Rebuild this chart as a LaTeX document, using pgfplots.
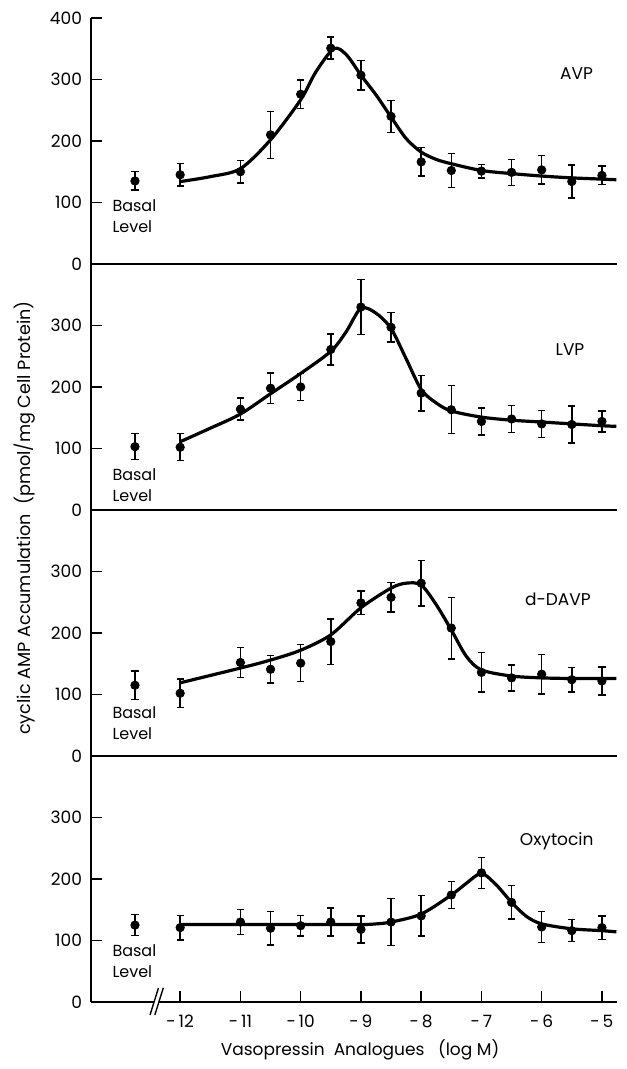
\documentclass[border=0pt]{standalone}
\usepackage{pgfplots}
\pgfplotsset{compat=1.18}
\usepackage{fontspec}
\setmainfont{Poppins}
\pgfplotsset{
  panel/.style={
    width=263pt, height=123pt, scale only axis,
    xmin=-13.48, xmax=-4.75, ymin=0, ymax=400,
    axis x line=bottom, axis y line=left,
    axis line style={-, line width=0.7pt},
    tick align=inside, major tick length=5.5pt,
    tick style={line width=0.7pt, black},
    ytick={0,100,200,300}, xtick=\empty,
    clip=false,
    /pgf/number format/assume math mode=true,
    tick label style={font=\fontsize{8.5}{10}\selectfont},
    yticklabel style={xshift=-1pt},
    anchor=south west,
  },
  pts/.style={only marks, mark=*, mark size=2.1pt, black,
    error bars/.cd, y dir=both, y explicit,
    error bar style={line width=0.7pt, black},
    error mark=-,
    error mark options={rotate=90, mark size=1.8pt, line width=0.7pt, black}},
  fit/.style={smooth, no marks, line width=1.6pt, black},
}
\tikzset{
  lab/.style={font=\fontsize{8.5}{10}\selectfont},
  basal/.style={font=\fontsize{8}{10.5}\selectfont, align=left},
}
\begin{document}
\begin{tikzpicture}

% ---------- AVP ----------
\begin{axis}[panel, at={(0pt,369pt)}, ytick={0,100,200,300,400}]
\addplot[pts] table[x index=0, y index=1, y error index=2] {
-12 145 18
-11 150 18
-10.5 210 38
-10 276 23
-9.5 351 18
-9 307 24
-8.5 240 26
-8 166 23
-7.5 152 28
-7 151 11
-6.5 149 21
-6 153 23
-5.5 134 27
-5 144 15
};
\addplot[pts] table[x index=0, y index=1, y error index=2] {
-12.75 135 15
};
\addplot[fit] coordinates {(-12,134) (-11.5,142) (-11,155) (-10.5,202) (-10,267) (-9.75,312) (-9.45,350) (-9.24,340) (-9,307) (-8.75,275) (-8.5,239) (-8.25,204) (-8,182) (-7.75,170) (-7.5,163) (-7,152) (-6.5,147) (-6,143) (-5.5,140) (-5,138) (-4.76,137)};
\node[lab] at (axis cs:-5.42,309) {AVP};
\node[basal] at (axis cs:-12.76,78) {Basal\\Level};
\end{axis}

% ---------- LVP ----------
\begin{axis}[panel, at={(0pt,246pt)}]
\addplot[pts] table[x index=0, y index=1, y error index=2] {
-12 102 22
-11 164 18
-10.5 198 25
-10 200 22
-9.5 261 25
-9 330 45
-8.5 297 24
-8 190 29
-7.5 163 39
-7 144 22
-6.5 148 22
-6 140 22
-5.5 139 30
-5 144 17
};
\addplot[pts] table[x index=0, y index=1, y error index=2] {
-12.75 103 21
};
\addplot[fit] coordinates {(-12,111) (-11.5,133) (-11,156) (-10.5,189) (-10,222) (-9.5,258) (-9.25,289) (-9,328) (-8.75,320) (-8.5,295) (-8.25,246) (-8,196) (-7.75,174) (-7.5,161) (-7,151) (-6.5,146) (-6,143) (-5.5,140) (-5,137) (-4.76,136)};
\node[lab] at (axis cs:-5.53,261) {LVP};
\node[basal] at (axis cs:-12.76,40) {Basal\\Level};
\end{axis}

% ---------- d-DAVP ----------
\begin{axis}[panel, at={(0pt,123pt)}]
\addplot[pts] table[x index=0, y index=1, y error index=2] {
-12 102 23
-11 152 24
-10.5 141 22
-10 151 30
-9.5 186 37
-9 249 19
-8.5 258 24
-8 281 37
-7.5 208 50
-7 136 32
-6.5 127 21
-6 133 32
-5.5 124 20
-5 122 23
};
\addplot[pts] table[x index=0, y index=1, y error index=2] {
-12.75 115 23
};
\addplot[fit] coordinates {(-12,119) (-11,143) (-10.5,156) (-10,172) (-9.5,197) (-9,241) (-8.5,273) (-8.25,281) (-8,278) (-7.75,246) (-7.5,205) (-7.25,162) (-7,140) (-6.5,130) (-6,127) (-5.5,126) (-5,126) (-4.76,126)};
\node[lab] at (axis cs:-5.73,255) {d-DAVP};
\node[basal] at (axis cs:-12.76,54) {Basal\\Level};
\end{axis}

% ---------- Oxytocin ----------
\begin{axis}[panel, at={(0pt,0pt)},
  xtick={-12,-11,-10,-9,-8,-7,-6,-5},
  xticklabels={-\,12,-\,11,-\,10,-\,9,-\,8,-\,7,-\,6,-\,5},
  xticklabel style={yshift=-3pt}]
\addplot[pts] table[x index=0, y index=1, y error index=2] {
-12 121 20
-11 130 20
-10.5 120 27
-10 124 17
-9.5 130 23
-9 118 22
-8.5 130 38
-8 140 33
-7.5 174 22
-7 210 25
-6.5 162 27
-6 122 25
-5.5 116 18
-5 121 19
};
\addplot[pts] table[x index=0, y index=1, y error index=2] {
-12.75 125 17
};
\addplot[fit] coordinates {(-12,126) (-11,126) (-10,126) (-9,126) (-8.75,127) (-8.5,130) (-8,143) (-7.5,174) (-7.25,193) (-7,209) (-6.75,190) (-6.5,162) (-6.25,139) (-6,127) (-5.5,119) (-5,116) (-4.76,114)};
\node[lab] at (axis cs:-5.75,261) {Oxytocin};
\node[basal] at (axis cs:-12.76,66) {Basal\\Level};
\coordinate (b1) at (axis cs:-12.50,-21);
\coordinate (b2) at (axis cs:-12.36,23);
\coordinate (b3) at (axis cs:-12.28,23);
\coordinate (b4) at (axis cs:-12.42,-21);
\end{axis}
\fill[white] (b1) -- (b2) -- (b3) -- (b4) -- cycle;
\draw[line width=0.7pt] (b1) -- (b2);
\draw[line width=0.7pt] (b4) -- (b3);

\node[rotate=90, font=\fontsize{8.8}{10}\selectfont] at (-33pt,242pt) {cyclic AMP Accumulation\ \ (pmol/mg Cell Protein)};
\node[font=\fontsize{8.5}{10}\selectfont] at (134.5pt,-24pt) {Vasopressin\ \ Analogues\ \ \ (log M)};
\pgfresetboundingbox
\path[use as bounding box] (-45.5pt,-33.5pt) rectangle (267.5pt,501pt);
\end{tikzpicture}
\end{document}
